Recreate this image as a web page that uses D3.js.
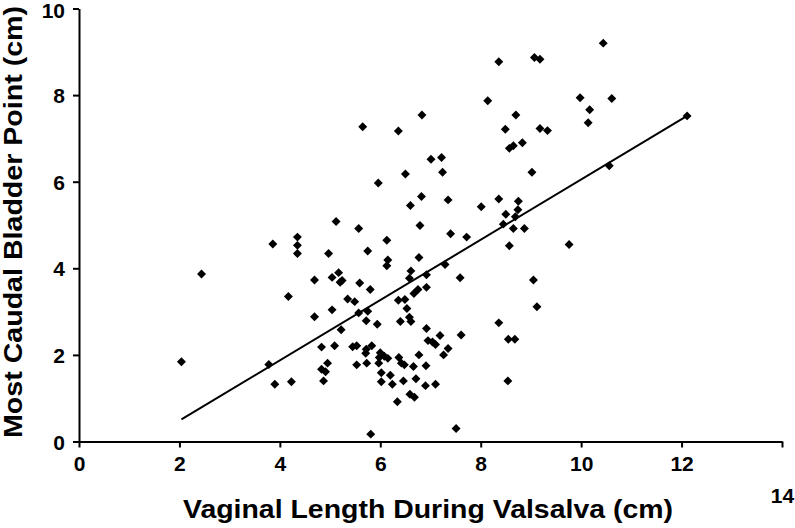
<!DOCTYPE html>
<html>
<head>
<meta charset="utf-8">
<script src="https://cdn.jsdelivr.net/npm/d3@7"></script>
<style>
  body { margin: 0; background: #fff; }
  text { font-family: "Liberation Sans", Arial, sans-serif; font-weight: bold; }
</style>
</head>
<body>
<div id="chart"></div>
<script>
// vaginal length during valsalva (cm)
var vaginalLength = [
  2.04, 2.44, 3.86, 3.90, 3.78, 4.23, 4.17, 4.35, 4.35, 4.35,
  4.69, 4.69, 4.83, 4.97, 4.83, 4.91, 4.95, 4.87, 8.14, 6.83,
  5.65, 6.36, 8.70, 8.49, 9.18, 9.33, 8.57, 8.65, 8.83, 7.01,
  7.22, 7.24, 6.50, 5.96, 9.02, 6.82, 6.60, 7.35, 8.01, 8.36,
  8.75, 8.50, 8.74, 8.69, 8.45, 8.65, 8.87, 8.57, 5.12, 5.57,
  6.79, 7.40, 7.72, 6.13, 5.75, 6.15, 6.13, 6.77, 7.29, 6.61,
  5.17, 5.04, 5.20, 5.24, 5.59, 5.80, 6.58, 6.92, 6.92, 7.59,
  6.67, 6.75, 9.05, 5.35, 5.49, 6.36, 6.49, 6.53, 5.04, 5.57,
  5.75, 9.12, 5.72, 5.94, 6.40, 6.58, 6.61, 5.22, 6.92, 8.36,
  7.61, 7.19, 6.95, 7.04, 7.10, 7.35, 7.26, 8.55, 8.68, 5.09,
  5.45, 5.53, 5.72, 5.83, 5.71, 6.00, 6.08, 6.15, 5.98, 6.37,
  6.42, 6.48, 6.77, 6.66, 6.91, 5.53, 5.73, 5.97, 6.02, 6.02,
  6.20, 6.24, 6.46, 6.71, 6.90, 7.10, 6.59, 6.68, 6.34, 8.54,
  5.81, 7.51, 10.44, 8.36, 9.07, 9.18, 9.98, 10.61, 10.17, 10.14,
  10.56, 12.11, 9.76
];
// most caudal bladder point (cm)
var bladderPoint = [
  1.84, 3.87, 4.56, 1.32, 1.78, 1.38, 3.35, 4.72, 4.53, 4.34,
  3.73, 2.88, 2.18, 4.34, 1.67, 1.61, 1.81, 1.40, 7.87, 7.54,
  7.27, 7.17, 7.54, 7.21, 7.23, 7.18, 6.77, 6.83, 6.90, 6.52,
  6.56, 6.22, 6.18, 5.97, 6.22, 5.66, 5.45, 5.58, 5.42, 5.60,
  5.55, 5.25, 5.35, 5.19, 5.02, 4.92, 4.92, 4.52, 5.08, 4.92,
  4.99, 4.80, 4.72, 4.65, 4.40, 4.19, 4.06, 4.25, 4.09, 3.94,
  3.90, 3.79, 3.68, 3.72, 3.66, 3.51, 3.77, 3.85, 3.56, 3.78,
  3.42, 3.51, 3.73, 3.29, 3.23, 3.26, 3.28, 3.07, 3.04, 2.97,
  3.01, 3.11, 2.79, 2.71, 2.77, 2.87, 2.77, 2.58, 2.61, 2.74,
  2.46, 2.45, 2.33, 2.30, 2.24, 2.15, 2.00, 2.36, 2.36, 2.21,
  2.19, 2.21, 2.13, 2.21, 2.04, 2.05, 1.97, 1.92, 1.94, 1.94,
  1.81, 1.77, 2.00, 1.73, 1.75, 1.77, 1.81, 1.81, 1.59, 1.38,
  1.53, 1.32, 1.40, 1.45, 1.29, 1.32, 1.09, 1.02, 0.92, 1.40,
  0.17, 0.30, 9.20, 8.77, 8.87, 8.83, 7.94, 7.92, 7.66, 7.36,
  6.37, 7.52, 4.55
];
// regression line end points
var fitX = [2.04, 12.11];
var fitY = [0.51, 7.52];

var xTicks = [0, 2, 4, 6, 8, 10, 12, 14];
var yTicks = [0, 2, 4, 6, 8, 10];

var width = 795,
    height = 528;

var svg = d3.select("#chart")
  .append("svg")
  .attr("width", width)
  .attr("height", height);

var x = d3.scaleLinear().domain([0, 14]).range([79, 782]);
var y = d3.scaleLinear().domain([0, 10]).range([441.5, 8.5]);

// axes
var xAxis = svg.append("g")
  .attr("transform", "translate(0," + y(0) + ")")
  .call(d3.axisBottom(x).tickValues(xTicks).tickSize(6).tickPadding(9).tickSizeOuter(0));

var yAxis = svg.append("g")
  .attr("transform", "translate(" + x(0) + ",0)")
  .call(d3.axisLeft(y).tickValues(yTicks).tickSize(6).tickPadding(8).tickSizeOuter(0));

svg.selectAll(".domain, .tick line")
  .attr("stroke", "#000")
  .attr("stroke-width", 2);

svg.selectAll(".tick text")
  .attr("fill", "#000")
  .style("font-size", "21px");

// the last x label sits lower in the original
xAxis.selectAll(".tick text")
  .filter(function(d) { return d === 14; })
  .attr("dy", "2.2em");

yAxis.selectAll(".tick text")
  .attr("dy", function(d) { return d === 10 ? "0.45em" : "0.36em"; });

// regression line
svg.append("line")
  .attr("x1", x(fitX[0]))
  .attr("y1", y(fitY[0]))
  .attr("x2", x(fitX[1]))
  .attr("y2", y(fitY[1]))
  .attr("stroke", "#000")
  .attr("stroke-width", 2);

// points
var diamond = d3.symbol().type(d3.symbolSquare).size(40);

svg.selectAll(".pt")
  .data(vaginalLength)
  .enter().append("path")
  .attr("class", "pt")
  .attr("d", diamond)
  .attr("fill", "#000")
  .attr("transform", function(d, i) {
    return "translate(" + x(d) + "," + y(bladderPoint[i]) + ") rotate(45)";
  });

// titles
svg.append("text")
  .attr("x", 428)
  .attr("y", 518)
  .attr("text-anchor", "middle")
  .attr("textLength", 490)
  .attr("lengthAdjust", "spacingAndGlyphs")
  .style("font-size", "25px")
  .text("Vaginal Length During Valsalva (cm)");

svg.append("text")
  .attr("transform", "translate(22,222) rotate(-90)")
  .attr("text-anchor", "middle")
  .attr("textLength", 432)
  .attr("lengthAdjust", "spacingAndGlyphs")
  .style("font-size", "25px")
  .text("Most Caudal Bladder Point (cm)");
</script>
</body>
</html>
